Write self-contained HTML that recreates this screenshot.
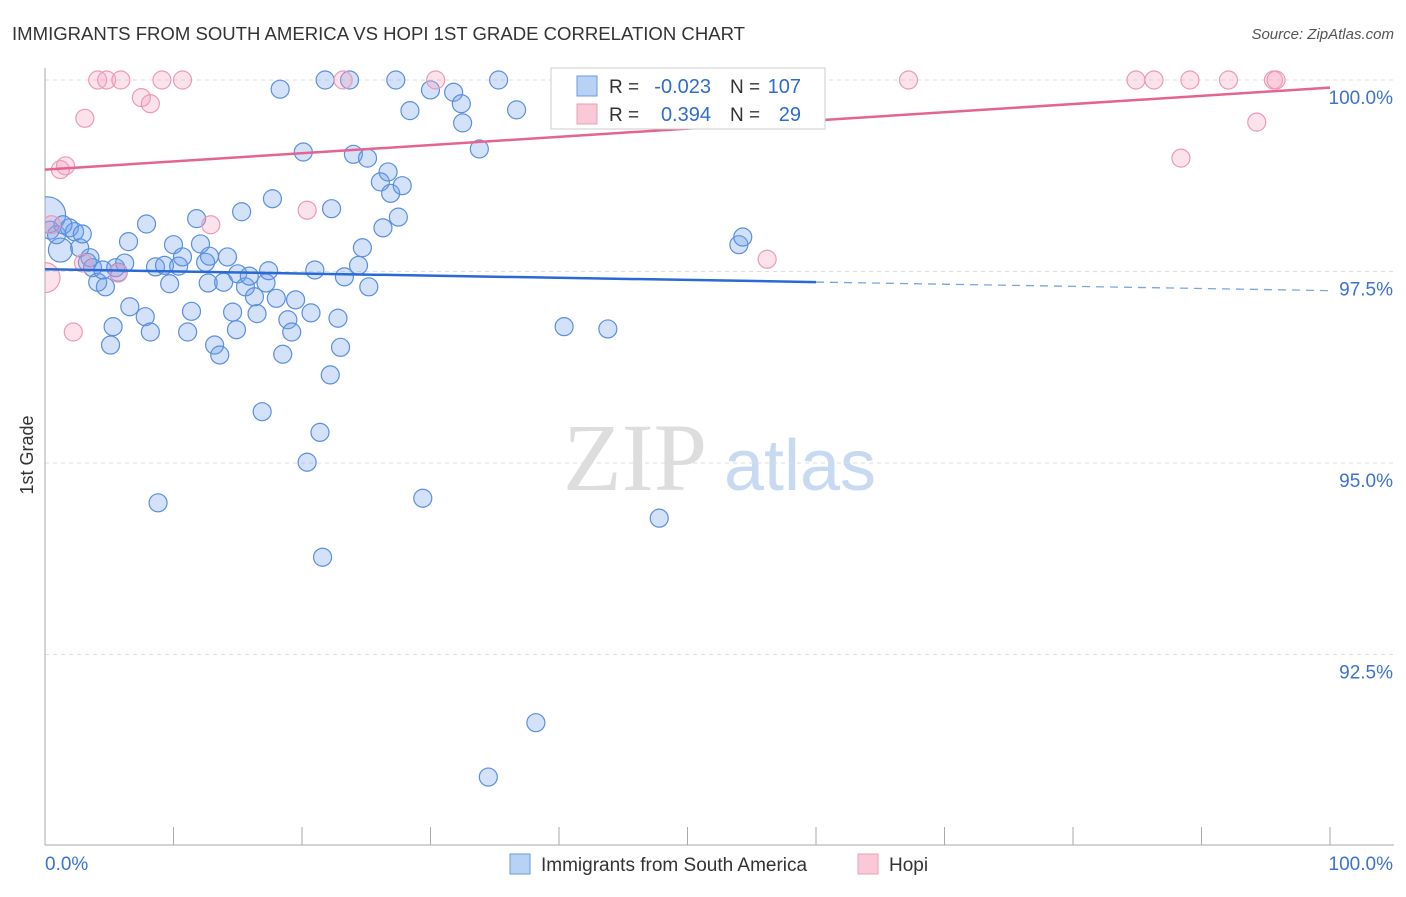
<!DOCTYPE html>
<html><head><meta charset="utf-8"><style>
body{margin:0;background:#fff;font-family:"Liberation Sans",sans-serif;}
svg text{font-family:"Liberation Sans",sans-serif;}
</style></head><body>
<svg id="c" width="1406" height="892">
<defs><clipPath id="plot"><rect x="45" y="60" width="1360" height="785"/></clipPath></defs>
<text x="12" y="40" font-size="18" fill="#333" textLength="733" lengthAdjust="spacingAndGlyphs">IMMIGRANTS FROM SOUTH AMERICA VS HOPI 1ST GRADE CORRELATION CHART</text>
<text x="1394" y="39" font-size="15" fill="#555" text-anchor="end" font-style="italic">Source: ZipAtlas.com</text>
<text x="33" y="455" font-size="18" fill="#333" transform="rotate(-90 33 455)" text-anchor="middle">1st Grade</text>
<g><text x="635" y="490" font-size="96" fill="#ddd" text-anchor="middle" style="font-family:'Liberation Serif',serif">ZIP</text><text x="800" y="490" font-size="72" fill="#c8daf2" text-anchor="middle">atlas</text></g>
<g id="grid"></g><g id="axes"></g><g id="pts" clip-path="url(#plot)"></g><g id="trend"></g>
<g>
<rect x="551" y="68" width="274" height="61" fill="#fff" stroke="#ccc"/>
<rect x="577" y="76" width="20" height="20" fill="#b8d2f5" stroke="#6a9ae0"/>
<rect x="577" y="104" width="20" height="20" fill="#f9c9d8" stroke="#e8a0b8"/>
<text x="609" y="93" font-size="19" fill="#333">R =</text>
<text x="711" y="93" font-size="20" fill="#2f6cd0" text-anchor="end">-0.023</text>
<text x="730" y="93" font-size="19" fill="#333">N =</text>
<text x="801" y="93" font-size="20" fill="#2f6cd0" text-anchor="end">107</text>
<text x="609" y="121" font-size="19" fill="#333">R =</text>
<text x="711" y="121" font-size="20" fill="#2f6cd0" text-anchor="end">0.394</text>
<text x="730" y="121" font-size="19" fill="#333">N =</text>
<text x="801" y="121" font-size="20" fill="#2f6cd0" text-anchor="end">29</text>
</g>
<g>
<rect x="510" y="854" width="20" height="20" fill="#b8d2f5" stroke="#6a9ae0"/>
<text x="541" y="871" font-size="19" fill="#333">Immigrants from South America</text>
<rect x="858" y="854" width="20" height="20" fill="#f9c9d8" stroke="#e8a0b8"/>
<text x="889" y="871" font-size="19" fill="#333">Hopi</text>
</g>
</svg>
<script>
const blueX=[0.2,0.4,1.2,0.9,1.9,2.3,2.7,2.9,1.4,3.3,3.5,3.7,4.1,4.7,4.5,5.7,5.5,6.2,6.5,5.3,5.1,6.6,7.8,8.2,7.9,8.6,8.8,9.3,9.7,10.0,10.4,10.7,11.1,11.4,11.8,12.1,12.5,12.8,12.7,13.2,13.6,13.9,14.2,14.6,14.9,15.0,15.3,15.6,15.9,16.3,16.5,16.9,17.2,17.4,17.7,18.0,18.3,18.5,18.9,19.2,19.5,20.1,20.4,20.7,21.0,21.4,21.6,21.8,22.2,22.3,22.8,23.0,23.3,23.7,24.0,24.4,24.7,25.1,25.2,26.1,26.3,26.7,26.9,27.3,27.5,27.8,28.4,29.4,30.0,31.8,32.4,32.5,33.8,34.5,35.3,36.7,38.2,40.4,43.8,47.8,54.0,54.3];
const blueY=[98.24,98.04,97.78,97.98,98.07,98.02,97.81,97.99,98.11,97.62,97.68,97.55,97.36,97.30,97.52,97.49,97.55,97.61,97.89,96.78,96.54,97.04,96.91,96.71,98.12,97.56,94.48,97.58,97.34,97.85,97.57,97.69,96.71,96.98,98.19,97.86,97.62,97.70,97.35,96.54,96.41,97.36,97.69,96.97,96.74,97.47,98.28,97.30,97.44,97.17,96.95,95.67,97.35,97.51,98.45,97.15,99.88,96.42,96.87,96.71,97.13,99.06,95.01,96.96,97.52,95.40,93.77,100.0,96.15,98.32,96.89,96.51,97.43,100.0,99.03,97.58,97.81,98.98,97.30,98.67,98.07,98.80,98.52,100.0,98.21,98.62,99.60,94.54,99.87,99.84,99.69,99.44,99.10,90.90,100.0,99.61,91.61,96.78,96.75,94.28,97.85,97.95];
const pinkX=[0.0,0.5,1.2,1.6,2.2,3.1,3.0,4.1,4.8,5.9,7.5,8.2,9.1,10.7,5.7,12.9,20.4,23.2,30.4,56.2,67.2,84.9,86.3,89.1,92.1,88.4,94.3,95.6,95.8];
const pinkY=[97.42,98.11,98.83,98.88,96.71,99.50,97.61,100,100,100,99.77,99.69,100,100,97.48,98.11,98.30,100,100,97.66,100,100,100,100,100,98.98,99.45,100,100];
const yTicks=[100,97.5,95,92.5];
const yTickLabels=["100.0%","97.5%","95.0%","92.5%"];
const blueTrend=[97.53,97.25];
const pinkTrend=[98.83,99.90];
const NS='http://www.w3.org/2000/svg';
const X=v=>45+v*12.85, Y=v=>80+(100-v)*76.6;
function mk(t,a,p){const e=document.createElementNS(NS,t);for(const k in a)e.setAttribute(k,a[k]);document.getElementById(p).appendChild(e);return e;}
yTicks.forEach((t,i)=>{
 const g=mk('line',{x1:45,x2:1394,y1:Y(t),y2:Y(t),stroke:'#ddd','stroke-dasharray':'4,4'},'grid');
 
 
 const l=mk('text',{x:1393,y:Y(t)+24,'font-size':19,fill:'#3b73d0','text-anchor':'end'},'axes');
 l.textContent=yTickLabels[i];
 
 
});
const ax=mk('line',{x1:45,x2:45,y1:68,y2:845,stroke:'#aaa'},'axes');


const bx=mk('line',{x1:45,x2:1394,y1:845,y2:845,stroke:'#aaa'},'axes');


for(let i=0;i<=10;i++){const t=mk('line',{x1:X(i*10),x2:X(i*10),y1:827,y2:845,stroke:'#aaa'},'axes');
 
 }
const xl0=mk('text',{x:45,y:870,'font-size':19,fill:'#3b73d0'},'axes');xl0.textContent='0.0%';


const xl1=mk('text',{x:1393,y:870,'font-size':19,fill:'#3b73d0','text-anchor':'end'},'axes');xl1.textContent='100.0%';


blueX.forEach((v,i)=>{const c=mk('circle',{cx:X(v),cy:Y(blueY[i]),r:i==0?18:(i==2?12:9),fill:'rgba(110,160,235,0.3)',stroke:'#5a8fe0','stroke-width':1.2},'pts');
 
 });
pinkX.forEach((v,i)=>{const c=mk('circle',{cx:X(v),cy:Y(pinkY[i]),r:i==0?15:9,fill:'rgba(245,160,190,0.3)',stroke:'#eb9ab5','stroke-width':1.2},'pts');
 
 });
const bt=v=>blueTrend[0]+(blueTrend[1]-blueTrend[0])*v/100;
const l1=mk('line',{x1:X(0),y1:Y(bt(0)),x2:X(60),y2:Y(bt(60)),stroke:'#2a6ad4','stroke-width':2.5},'trend');


const l2=mk('line',{x1:X(60),y1:Y(bt(60)),x2:X(100),y2:Y(bt(100)),stroke:'#7aa4e4','stroke-width':1.3,'stroke-dasharray':'8,6'},'trend');


const l3=mk('line',{x1:X(0),y1:Y(pinkTrend[0]),x2:X(100),y2:Y(pinkTrend[1]),stroke:'#e5648d','stroke-width':2.5},'trend');


</script>
</body></html>
